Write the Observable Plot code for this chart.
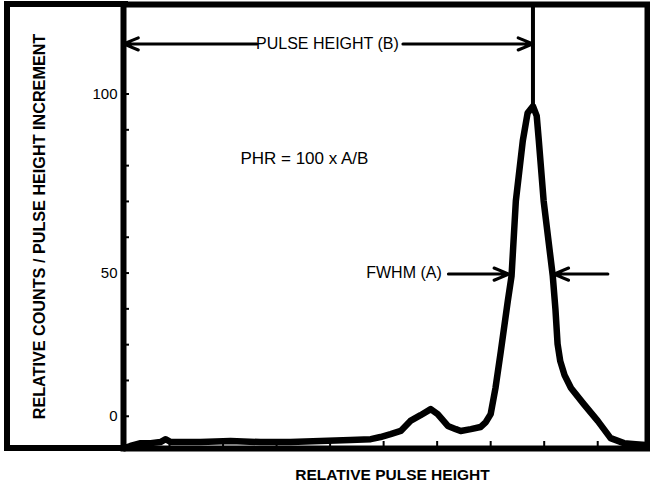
<!DOCTYPE html>
<html><head><meta charset="utf-8">
<script src="https://cdn.jsdelivr.net/npm/d3@7"></script>
<script src="https://cdn.jsdelivr.net/npm/@observablehq/plot@0.6"></script>
<style>
html,body{margin:0;padding:0;background:#fff;}
#wrap{position:relative;width:650px;height:489px;overflow:hidden;}
#outer{position:absolute;left:4px;top:1px;width:124px;height:450px;box-sizing:border-box;border:6px solid #000;border-right:none;pointer-events:none;z-index:2;}
</style></head><body><div id="wrap"><div id="outer"></div></div>
<script>
// pulse-height spectrum
const channel = [1.6, 2.7, 4.6, 6.5, 8.3, 9.3, 10.2, 15.8, 21.4, 27.0, 32.6, 38.2, 43.8, 47.6, 49.4, 51.3, 53.2, 55.0, 56.9, 58.8, 60.1, 62.0, 63.5, 64.4, 66.3, 68.1, 69.1, 70.0, 70.9, 71.9, 73.2, 73.9, 74.7, 76.0, 76.9, 77.9, 78.6, 79.0, 79.9, 81.6, 82.1, 82.5, 83.0, 83.8, 85.0, 87.4, 90.0, 92.4, 94.9, 97.1, 99.0];
const counts  = [1.1, 1.7, 2.5, 2.5, 2.8, 3.6, 2.8, 2.8, 3.1, 2.8, 2.8, 3.1, 3.4, 3.6, 4.2, 5.0, 5.9, 8.7, 10.3, 12.0, 10.6, 7.3, 6.4, 5.9, 6.4, 7.0, 8.4, 10.6, 17.9, 28.2, 42.2, 49.2, 70.1, 86.9, 94.7, 96.6, 93.9, 86.9, 70.1, 49.2, 39.9, 30.2, 25.4, 21.5, 17.9, 13.4, 8.7, 3.9, 2.5, 2.2, 2.0];

const xDomain = [1.4, 99.3];
const yDomain = [1, 125];
const xTicks = [10, 20, 30, 40, 50, 60, 70, 80, 90];
const yTicks = [10, 20, 30, 40, 50, 60, 70, 80, 90, 100];
const yTickLabelValues = [10, 50, 100];
const yTickLabelTexts = ["0", "50", "100"];

const peak = [{x: 77.9, y: 96.6}];
const annoLabels = [
  {t: "PULSE HEIGHT (B)", x: 39.5, y: 114, s: 16},
  {t: "PHR = 100 x A/B", x: 35.2, y: 82.1, s: 17},
  {t: "FWHM (A)", x: 53.8, y: 50.0, s: 16}
];
const annoArrows = [
  {x1: 26.3, x2: 1.4, y: 114},
  {x1: 53.6, x2: 77.9, y: 114},
  {x1: 62.1, x2: 73.4, y: 49.7},
  {x1: 91.9, x2: 81.8, y: 49.7}
];
const xTitle = "RELATIVE PULSE HEIGHT";
const yTitle = "RELATIVE COUNTS / PULSE HEIGHT INCREMENT";

const curveData = channel.map((c, i) => ({c, v: counts[i]}));
const labelMap = new Map(yTickLabelValues.map((v, i) => [v, yTickLabelTexts[i]]));
const font = "'Liberation Sans', Arial, Helvetica, sans-serif";

const chart = Plot.plot({
  width: 650, height: 489,
  marginLeft: 123, marginRight: 3, marginTop: 4, marginBottom: 41,
  x: {domain: xDomain},
  y: {domain: yDomain},
  style: {fontFamily: font, color: "#000", background: "#fff"},
  marks: [
    Plot.axisY({ticks: yTicks, tickSize: -6, tickPadding: 12, tickFormat: d => labelMap.get(d) ?? "", fontSize: 15, label: null, strokeWidth: 2}),
    Plot.axisX({ticks: xTicks, tickSize: -7, tickFormat: () => "", label: null, strokeWidth: 2}),
    Plot.line(curveData, {x: "c", y: "v", stroke: "#000", strokeWidth: 6.5, strokeLinejoin: "round", strokeLinecap: "round"}),
    Plot.ruleX(peak, {x: "x", y1: "y", y2: yDomain[1], stroke: "#000", strokeWidth: 4}),
    Plot.arrow(annoArrows, {x1: "x1", x2: "x2", y1: "y", y2: "y", stroke: "#000", strokeWidth: 3, headAngle: 45, headLength: 8}),
    Plot.text(annoLabels, {x: "x", y: "y", text: "t", fontSize: d => d.s, fill: "#000"}),
    Plot.text([xTitle], {frameAnchor: "bottom", dx: 7, dy: 31, fontSize: 15.5, fontWeight: "bold", fill: "#000"}),
    Plot.text([yTitle], {frameAnchor: "left", textAnchor: "middle", rotate: -90, dx: -84, dy: 0, fontSize: 16.2, fontWeight: "bold", fill: "#000"}),
    Plot.frame({stroke: "#000", strokeWidth: 6})
  ]
});
document.getElementById("wrap").appendChild(chart);
</script>
</body></html>
